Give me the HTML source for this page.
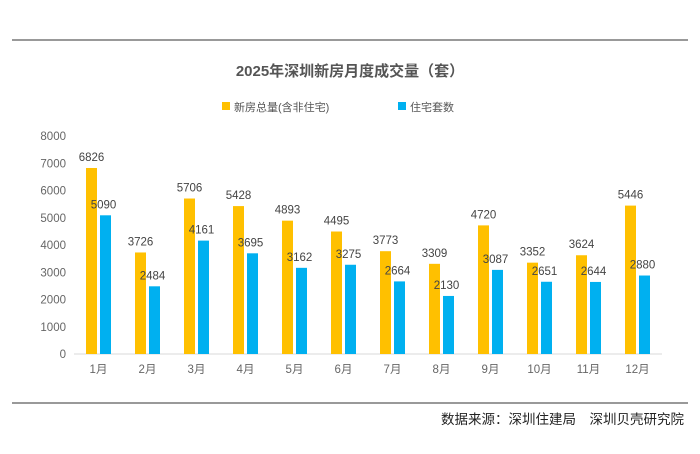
<!DOCTYPE html>
<html><head><meta charset="utf-8"><style>
body{margin:0;background:#fff;}
svg text{font-family:"Liberation Sans","Noto Sans CJK SC",sans-serif;}
</style></head><body>
<svg id="c" width="700" height="449">
<line x1="12" y1="40" x2="688" y2="40" stroke="#333" stroke-width="1"/>
<line x1="12" y1="403" x2="688" y2="403" stroke="#333" stroke-width="1"/>
<text x="350" y="76" text-anchor="middle" font-size="15" font-weight="bold" fill="#555">2025年深圳新房月度成交量（套）</text>
<g>
<rect x="222" y="102" width="8" height="8" fill="#FFC000"/>
<text x="234" y="111" font-size="11" fill="#555">新房总量(含非住宅)</text>
<rect x="398" y="102" width="8" height="8" fill="#00B0F0"/>
<text x="410" y="111" font-size="11" fill="#555">住宅套数</text>
</g>
<g id="plot"></g>
<text x="684" y="424" text-anchor="end" font-size="13.5" fill="#222">数据来源：深圳住建局　深圳贝壳研究院</text>
</svg>
<script>
const categories=["1月","2月","3月","4月","5月","6月","7月","8月","9月","10月","11月","12月"];
const totalValues=[6826,3726,5706,5428,4893,4495,3773,3309,4720,3352,3624,5446];
const residentialValues=[5090,2484,4161,3695,3162,3275,2664,2130,3087,2651,2644,2880];
const yTicks=[0,1000,2000,3000,4000,5000,6000,7000,8000];
const x0=74,x1=662,y0=354,yTop=136,yMax=8000;
const step=(x1-x0)/categories.length;
const xc=i=>x0+step*(i+0.5);
const y=v=>y0-(v/yMax)*(y0-yTop);
const g=document.getElementById('plot');
const NS='http://www.w3.org/2000/svg';
function mk(t,a,txt){const e=document.createElementNS(NS,t);for(const k in a)e.setAttribute(k,a[k]);if(txt!=null)e.textContent=txt;g.appendChild(e);return e;}
yTicks.forEach(v=>{
const e=mk('text',{x:66,y:y(v)+4,'text-anchor':'end','font-size':11.5,fill:'#666'},v);


});
const ax=mk('line',{x1:x0,y1:y0,x2:x1,y2:y0,stroke:'#d9d9d9'});


categories.forEach((c,i)=>{
const cx=xc(i);
const b1=mk('rect',{x:cx-12.5,y:y(totalValues[i]),width:11,height:y0-y(totalValues[i]),fill:'#FFC000'});


const b2=mk('rect',{x:cx+1.5,y:y(residentialValues[i]),width:11,height:y0-y(residentialValues[i]),fill:'#00B0F0'});


const l1=mk('text',{x:cx-7,y:y(totalValues[i])-7,'text-anchor':'middle','font-size':11.5,fill:'#444'},totalValues[i]);


const l2=mk('text',{x:cx+5,y:y(residentialValues[i])-7,'text-anchor':'middle','font-size':11.5,fill:'#444'},residentialValues[i]);


const cl=mk('text',{x:cx,y:373,'text-anchor':'middle','font-size':11.5,fill:'#666'},c);


});
</script>
</body></html>
